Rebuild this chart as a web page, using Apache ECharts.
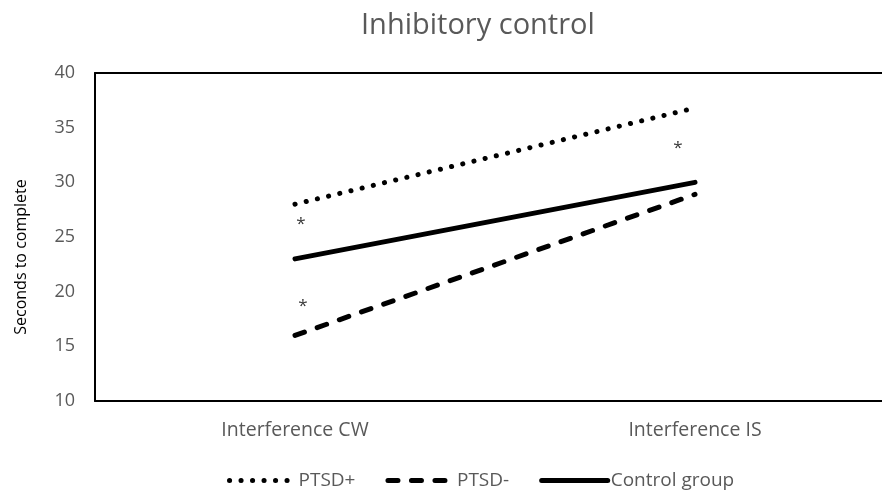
<!DOCTYPE html>
<html>
<head>
<meta charset="utf-8">
<script src="https://cdn.jsdelivr.net/npm/echarts@6/dist/echarts.min.js"></script>
<style>
  html, body { margin: 0; padding: 0; background: #fff; }
  #chart { width: 882px; height: 491px; }
</style>
</head>
<body>
<div id="chart"></div>
<script>
// data
const categories = ["Interference CW", "Interference IS"];
const ptsdPlus = [28, 36.8];
const ptsdMinus = [16, 28.9];
const controlGroup = [23, 30];
// significance marks: [category, value]
const stars = [["Interference CW", 26.2], ["Interference CW", 18.7], ["Interference IS", 33.1]];
const starOffsets = [[6, 0], [8, 0], [-17, 0]];

const font = "Open Sans";
const grey = "#595959";
const dots = [0.1, 11.4];
const dashes = [10, 13.5];

let myChart = echarts.init(document.getElementById("chart"));
myChart.setOption({
  animation: false,
  title: {
    text: "Inhibitory control",
    left: 356,
    top: 6,
    textStyle: { fontFamily: font, fontSize: 29, fontWeight: "normal", color: grey }
  },
  legend: {
    top: 466,
    left: 222,
    itemWidth: 66,
    itemHeight: 14,
    itemGap: 30,
    itemStyle: { opacity: 0 },
    lineStyle: { width: 5, cap: "round" },
    textStyle: { fontFamily: font, fontSize: 19, color: grey, padding: [0, 0, 0, -2] },
    data: ["PTSD+", "PTSD-", "Control group"]
  },
  grid: {
    left: 95,
    top: 73,
    width: 800,
    height: 328,
    outerBoundsMode: "none"
  },
  xAxis: [
    {
      type: "category",
      data: categories,
      boundaryGap: true,
      axisLine: { show: true, lineStyle: { color: "#000", width: 2 } },
      axisTick: { show: false },
      axisLabel: { fontFamily: font, fontSize: 19.5, color: grey, margin: 19 }
    },
    {
      type: "category",
      position: "top",
      data: categories,
      boundaryGap: true,
      axisLine: { show: true, lineStyle: { color: "#000", width: 2 } },
      axisTick: { show: false },
      axisLabel: { show: false }
    }
  ],
  yAxis: {
    type: "value",
    min: 10,
    max: 40,
    interval: 5,
    name: "Seconds to complete",
    nameLocation: "middle",
    nameGap: 66,
    nameTextStyle: { fontFamily: font, fontSize: 16, color: "#000", padding: [0, 40, 0, 0] },
    axisLine: { show: true, lineStyle: { color: "#000", width: 2 } },
    axisTick: { show: false },
    splitLine: { show: false },
    axisLabel: { fontFamily: font, fontSize: 18, color: grey, margin: 20 }
  },
  series: [
    {
      name: "PTSD+",
      type: "line",
      data: ptsdPlus,
      symbol: "none",
      itemStyle: { color: "#000" },
      lineStyle: { color: "#000", width: 5, type: dots, cap: "round" }
    },
    {
      name: "PTSD-",
      type: "line",
      data: ptsdMinus,
      symbol: "none",
      itemStyle: { color: "#000" },
      lineStyle: { color: "#000", width: 5, type: dashes, cap: "round" }
    },
    {
      name: "Control group",
      type: "line",
      data: controlGroup,
      symbol: "none",
      itemStyle: { color: "#000" },
      lineStyle: { color: "#000", width: 5, cap: "round" }
    },
    {
      name: "stars",
      type: "scatter",
      symbolSize: 0,
      data: stars.map((s, i) => ({
        value: s,
        label: {
          show: true,
          formatter: "*",
          position: "inside",
          offset: starOffsets[i],
          fontFamily: font,
          fontSize: 17,
          color: "#000"
        }
      })),
      silent: true
    }
  ]
});
</script>
</body>
</html>
